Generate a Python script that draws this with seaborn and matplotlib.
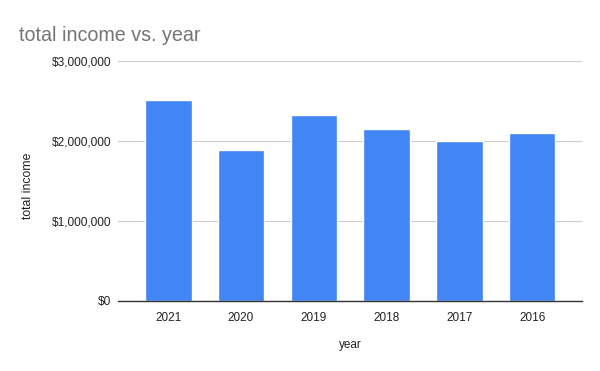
import pandas as pd
import matplotlib
matplotlib.use("Agg")
import matplotlib.pyplot as plt
import seaborn as sns
from matplotlib.ticker import FuncFormatter

years = ["2021", "2020", "2019", "2018", "2017", "2016"]
total_income = [2514000, 1887000, 2326000, 2151000, 2004000, 2100000]

df = pd.DataFrame({"year": years, "total income": total_income})

sns.set_theme(style="white")
plt.rcParams["font.family"] = ["Liberation Sans", "DejaVu Sans"]

fig = plt.figure(figsize=(6, 3.71), dpi=100)
ax = fig.add_axes([0.197, 0.190, 0.7725, 0.6448])

sns.barplot(data=df, x="year", y="total income", order=years,
            color="#4285F4", saturation=1, width=0.64, ax=ax)

ax.set_ylim(0, 3000000)
ax.set_xlim(-0.687, 5.68)
ax.set_yticks([0, 1000000, 2000000, 3000000])
ax.yaxis.set_major_formatter(FuncFormatter(lambda v, p: f"${v:,.0f}"))
ax.grid(axis="y", color="#cccccc", linewidth=0.8)
ax.set_axisbelow(True)

for s in ["top", "right", "left"]:
    ax.spines[s].set_visible(False)
ax.spines["bottom"].set_color("#333333")
ax.spines["bottom"].set_linewidth(1)

ax.tick_params(axis="x", length=0, pad=8, labelsize=8.5, labelcolor="#222222")
ax.tick_params(axis="y", length=0, pad=4.8, labelsize=8.6, labelcolor="#222222")

ax.set_xlabel("year", fontsize=8.5, color="#222222", va="center")
ax.xaxis.set_label_coords(0.5, -0.1865)
ax.set_ylabel("total income", fontsize=8.8, color="#222222", va="center")
ax.yaxis.set_label_coords(-0.195, 0.478)

fig.text(0.0317, 0.890, "total income vs. year", fontsize=14.2, color="#757575",
         va="baseline", ha="left")

fig.savefig("out.png", dpi=100)
